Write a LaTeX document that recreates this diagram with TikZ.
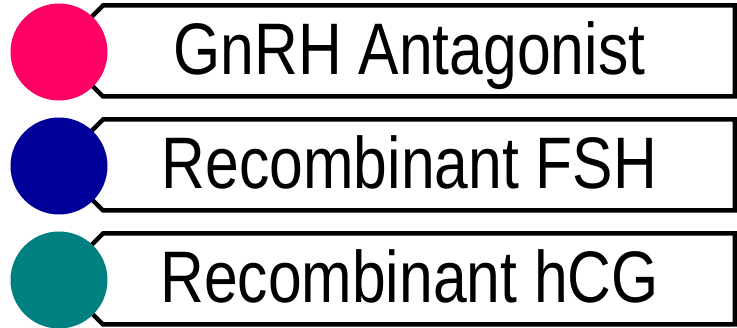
\documentclass[tikz,border=0pt]{standalone}
\usepackage{fontspec}
\setmainfont{Liberation Sans}
\definecolor{dotpink}{RGB}{255,0,102}
\definecolor{dotnavy}{RGB}{0,0,153}
\definecolor{dotteal}{RGB}{0,128,128}
\begin{document}
\begin{tikzpicture}[x=1pt,y=-1pt,
  tagbox/.style={draw=black,fill=white,line width=4.5pt,line join=miter},
  dot/.style={circle,minimum size=97pt,inner sep=0pt,draw=none},
  lbl/.style={anchor=base,inner sep=0pt,xscale=0.83,font=\fontsize{73}{80}\selectfont}]
\useasboundingbox (0,0) rectangle (737,328);
\foreach \c/\col/\txt/\n in {51/dotpink/GnRH Antagonist/a,165/dotnavy/Recombinant FSH/b,279/dotteal/Recombinant hCG/c}{
  \coordinate (tip\n) at (57.5,\c);
  \draw[tagbox] (tip\n) -- (103,\c-45.5) -- (734.75,\c-45.5) -- (734.75,\c+45.5) -- (103,\c+45.5) -- cycle;
  \node[dot,fill=\col] (dot\n) at (59,\c+1) {};
  \node[lbl] (lbl\n) at (409.5,\c+24) {\txt};
}
\end{tikzpicture}
\end{document}
